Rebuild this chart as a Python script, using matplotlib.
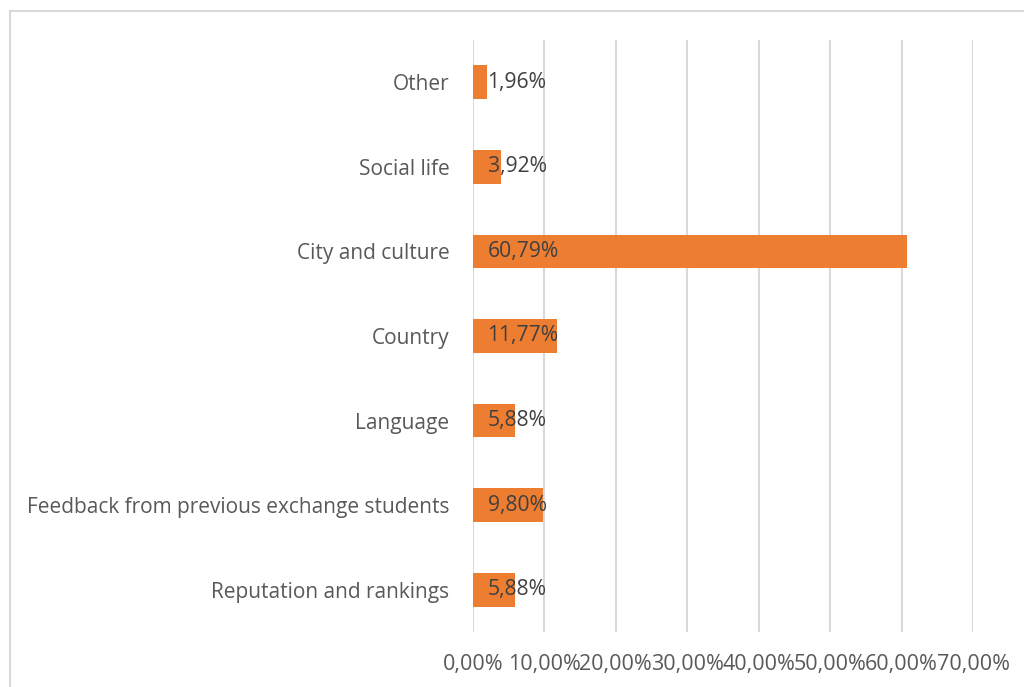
import matplotlib.pyplot as plt
from matplotlib.patches import Rectangle

categories = ["Reputation and rankings", "Feedback from previous exchange students",
              "Language", "Country", "City and culture", "Social life", "Other"]
values = [5.88, 9.80, 5.88, 11.77, 60.79, 3.92, 1.96]
ticks = [0, 10, 20, 30, 40, 50, 60, 70]

text_color = "#595959"
bar_color = "#ED7D31"
grid_color = "#D9D9D9"

plt.rcParams['font.family'] = ['Open Sans', 'DejaVu Sans']

fig = plt.figure(figsize=(10.24, 6.87), dpi=100)
# chart border
fig.patches.append(Rectangle((10 / 1024, -0.1), 1.2, 1 - 11 / 687 + 0.1,
                             transform=fig.transFigure, fill=False,
                             edgecolor=grid_color, linewidth=1.5))

ax = fig.add_axes([473 / 1024, 1 - 632 / 687, 500 / 1024, 592 / 687])
y = range(len(categories))
ax.barh(y, values, height=0.4, color=bar_color, zorder=3)

for i, v in zip(y, values):
    ax.annotate(f"{v:.2f}%".replace(".", ","), (0, i), xytext=(10.5, 0),
                textcoords="offset points", va="center", ha="left",
                fontsize=15.2, color="#404040", zorder=4)

ax.set_xlim(0, 70)
ax.set_ylim(-0.5, len(categories) - 0.5)
ax.set_xticks(ticks)
ax.set_xticklabels([f"{t:.2f}%".replace(".", ",") for t in ticks])
ax.set_yticks(list(y))
ax.set_yticklabels(categories)
ax.tick_params(axis="x", length=0, pad=16, labelsize=15.5, colors=text_color)
ax.tick_params(axis="y", length=0, pad=17, labelsize=15, colors=text_color)
ax.grid(axis="x", color=grid_color, linewidth=1.5, zorder=0)
for s in ax.spines.values():
    s.set_visible(False)

fig.savefig("out.png", dpi=100)
